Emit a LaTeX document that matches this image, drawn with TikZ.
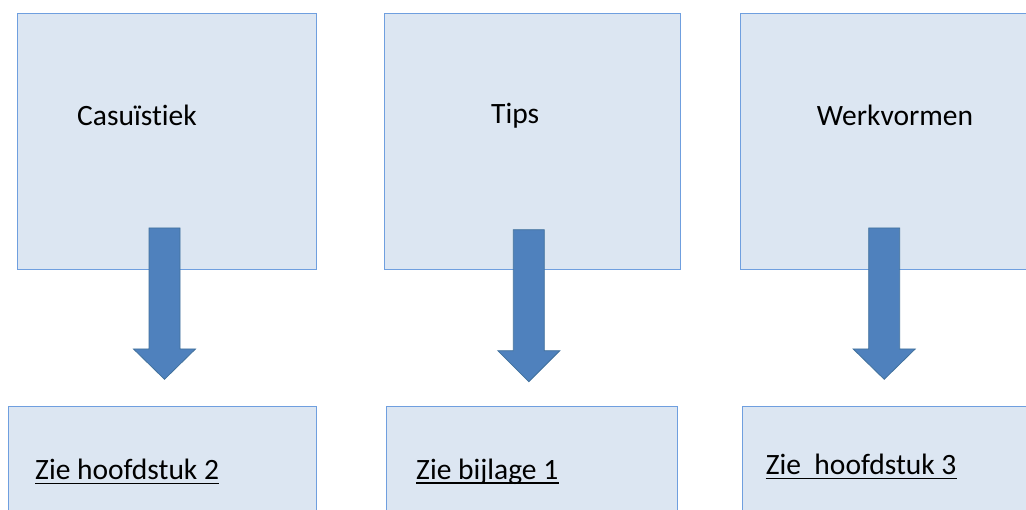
\documentclass[tikz,border=0pt]{standalone}
\usepackage{fontspec}
\setmainfont[Ligatures=NoCommon]{Carlito}
\definecolor{boxfill}{HTML}{DCE6F2}
\definecolor{boxline}{HTML}{6F9FDF}
\definecolor{arrfill}{HTML}{4F81BD}
\definecolor{arrline}{HTML}{41719C}
\tikzset{
  panel/.style={draw=boxline, fill=boxfill, line width=1pt},
  blockarrow/.style={draw=arrline, fill=arrfill, line width=0.8pt, line join=miter},
  lbl/.style={inner sep=0pt, anchor=base west, font=\fontsize{29.5}{35}\selectfont, text=black},
  ul/.style={black, line width=1.5pt}
}
\newcommand{\blockarr}[5]{% x-left, x-right, y-top, y-headbase, y-tip
  \filldraw[blockarrow] (#1,#3) -- (#2,#3) -- (#2,#4) -- ({#2+15.5},#4) -- ({(#1+#2)/2},#5) -- ({#1-15.5},#4) -- (#1,#4) -- cycle;}
\begin{document}
\begin{tikzpicture}[x=1pt,y=-1pt]
\clip (0,0) rectangle (1026,510);
\fill[white] (0,0) rectangle (1026,510);
% top panels
\draw[panel] (17.3,13.3) rectangle (316.3,270) coordinate (t1);
\draw[panel] (384,13.3) rectangle (680.7,270) coordinate (t2);
\draw[panel] (740,13.3) rectangle (1040,270) coordinate (t3);
% bottom panels
\draw[panel] (8,406.7) rectangle (316.7,530);
\draw[panel] (386,406.7) rectangle (677.3,530);
\draw[panel] (742.3,406.7) rectangle (1040,530);
% labels top
\node[lbl] (c) at (77,126) {Casuïstiek};
\node[lbl] (tp) at (491,124) {Tips};
\node[lbl] (w) at (816.7,126) {Werkvormen};
% arrows
\blockarr{149}{180}{228}{349}{379.3}
\blockarr{513.3}{544.3}{229.7}{350.7}{381.7}
\blockarr{868.7}{899.7}{228}{349}{379.3}
% bottom labels
\node[lbl] (z1) at (35,479.3) {Zie hoofdstuk 2};
\node[lbl] (z2) at (416,479) {Zie bijlage 1};
\node[lbl] (z3) at (765.7,474.3) {Zie\ \ hoofdstuk 3};
\draw[ul] ([yshift=-4.2pt]z1.base west) -- ([yshift=-4.2pt]z1.base east);
\draw[ul] ([yshift=-4.2pt]z2.base west) -- ([yshift=-4.2pt]z2.base east);
\draw[ul] ([yshift=-4.2pt]z3.base west) -- ([yshift=-4.2pt]z3.base east);
\end{tikzpicture}
\end{document}
